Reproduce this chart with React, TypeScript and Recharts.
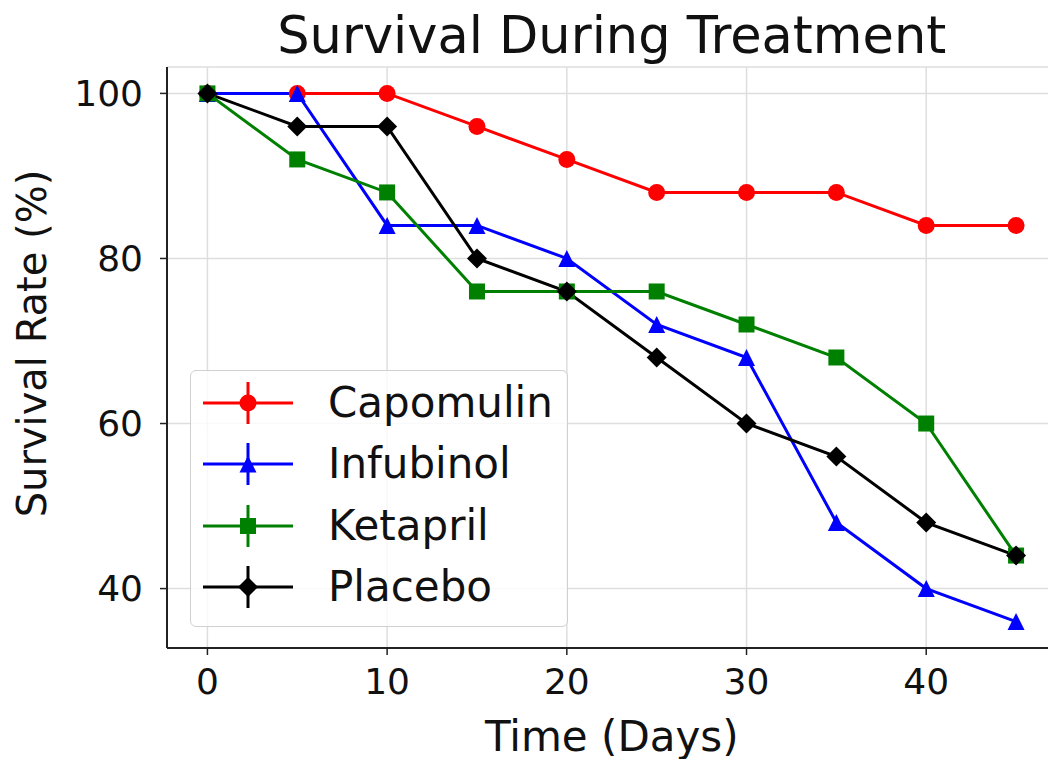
import { LineChart, Line, XAxis, YAxis, CartesianGrid } from 'recharts'

const days = [0, 5, 10, 15, 20, 25, 30, 35, 40, 45]
const capomulin = [100, 100, 100, 96, 92, 88, 88, 88, 84, 84]
const infubinol = [100, 100, 84, 84, 80, 72, 68, 48, 40, 36]
const ketapril = [100, 92, 88, 76, 76, 76, 72, 68, 60, 44]
const placebo = [100, 96, 96, 80, 76, 68, 60, 56, 48, 44]
const xTicks = [0, 10, 20, 30, 40]
const yTicks = [40, 60, 80, 100]

type Shape = 'circle' | 'triangle' | 'square' | 'diamond'

const series: { name: string; color: string; shape: Shape; values: number[] }[] = [
  { name: 'Capomulin', color: '#ff0000', shape: 'circle', values: capomulin },
  { name: 'Infubinol', color: '#0000ff', shape: 'triangle', values: infubinol },
  { name: 'Ketapril', color: '#008000', shape: 'square', values: ketapril },
  { name: 'Placebo', color: '#000000', shape: 'diamond', values: placebo },
]

const data = days.map((day, i) => {
  const row: Record<string, number> = { day }
  series.forEach((s) => {
    row[s.name] = s.values[i]
  })
  return row
})

const FONT = '"DejaVu Sans", sans-serif'

function Marker({ shape, cx, cy, color }: { shape: Shape; cx: number; cy: number; color: string }) {
  if (shape === 'circle') return <circle cx={cx} cy={cy} r={8.5} fill={color} />
  if (shape === 'triangle') {
    const h = 8.5
    return <polygon points={`${cx},${cy - h} ${cx - h},${cy + h} ${cx + h},${cy + h}`} fill={color} />
  }
  if (shape === 'square') {
    const h = 8
    return <rect x={cx - h} y={cy - h} width={h * 2} height={h * 2} fill={color} />
  }
  const d = 10
  return <polygon points={`${cx},${cy - d} ${cx + d},${cy} ${cx},${cy + d} ${cx - d},${cy}`} fill={color} />
}

const YLabel = ({ viewBox }: any) => {
  const x = viewBox.x + 32
  const y = viewBox.y + viewBox.height / 2 - 14
  return (
    <text x={x} y={y} transform={`rotate(-90 ${x} ${y})`} textAnchor="middle" dominantBaseline="central" fontSize={40} fontFamily={FONT} fill="#111">
      Survival Rate (%)
    </text>
  )
}

const XLabel = ({ viewBox }: any) => {
  const x = viewBox.x + viewBox.width / 2
  const y = viewBox.y + 88
  return (
    <text x={x} y={y} textAnchor="middle" dominantBaseline="central" fontSize={42} fontFamily={FONT} fill="#111">
      Time (Days)
    </text>
  )
}

export default function App() {
  return (
    <div style={{ position: 'fixed', left: 0, top: 0, width: 1048, height: 759, overflow: 'hidden', background: '#fff', fontFamily: FONT }}>
      <div style={{ position: 'absolute', left: 167, top: 10, width: 889.5, textAlign: 'center', fontSize: 51, lineHeight: '51px', color: '#111' }}>
        Survival During Treatment
      </div>
      <div style={{ position: 'absolute', left: 0, top: 0 }}>
        <LineChart width={1060} height={759} data={data} margin={{ top: 67, right: 3.5, bottom: 0, left: 0 }}>
          <CartesianGrid stroke="#dedede" strokeWidth={1.5} />
          <XAxis
            dataKey="day"
            type="number"
            domain={[-2.25, 47.25]}
            ticks={xTicks}
            height={111}
            tickSize={7}
            tickMargin={13}
            axisLine={{ stroke: '#222', strokeWidth: 2 }}
            tickLine={{ stroke: '#222', strokeWidth: 1.5 }}
            tick={{ fontSize: 36, fill: '#111', fontFamily: FONT }}
            label={<XLabel />}
          />
          <XAxis
            xAxisId="top"
            orientation="top"
            dataKey="day"
            type="number"
            domain={[-2.25, 47.25]}
            height={0}
            tick={false}
            tickLine={false}
            axisLine={{ stroke: '#222', strokeWidth: 2 }}
          />
          <YAxis
            type="number"
            domain={[32.8, 103.2]}
            ticks={yTicks}
            width={167}
            tickSize={7}
            tickMargin={17}
            axisLine={{ stroke: '#222', strokeWidth: 2 }}
            tickLine={{ stroke: '#222', strokeWidth: 1.5 }}
            tick={{ fontSize: 36, fill: '#111', fontFamily: FONT }}
            label={<YLabel />}
          />
          {series.map((s) => (
            <Line
              key={s.name}
              dataKey={s.name}
              stroke={s.color}
              strokeWidth={3}
              isAnimationActive={false}
              activeDot={false}
              dot={(p: any) => <Marker key={`${s.name}-${p.index}`} shape={s.shape} cx={p.cx} cy={p.cy} color={s.color} />}
            />
          ))}
        </LineChart>
      </div>
      <div
        style={{
          position: 'absolute',
          left: 190,
          top: 370,
          width: 378,
          height: 257,
          boxSizing: 'border-box',
          border: '1.5px solid #d0d0d0',
          borderRadius: 6,
          background: 'rgba(255,255,255,0.8)',
        }}
      >
        {series.map((s, i) => (
          <div key={s.name} style={{ position: 'absolute', left: 0, top: 32 + i * 61.3 - 30, height: 60, width: 376 }}>
            <svg width={110} height={60} style={{ position: 'absolute', left: 0, top: 0 }}>
              <line x1={12} y1={30} x2={102} y2={30} stroke={s.color} strokeWidth={3} />
              <line x1={57} y1={9} x2={57} y2={51} stroke={s.color} strokeWidth={3} />
              <Marker shape={s.shape} cx={57} cy={30} color={s.color} />
            </svg>
            <span style={{ position: 'absolute', left: 137, top: 0, lineHeight: '60px', fontSize: 42, color: '#111', whiteSpace: 'nowrap' }}>
              {s.name}
            </span>
          </div>
        ))}
      </div>
    </div>
  )
}
